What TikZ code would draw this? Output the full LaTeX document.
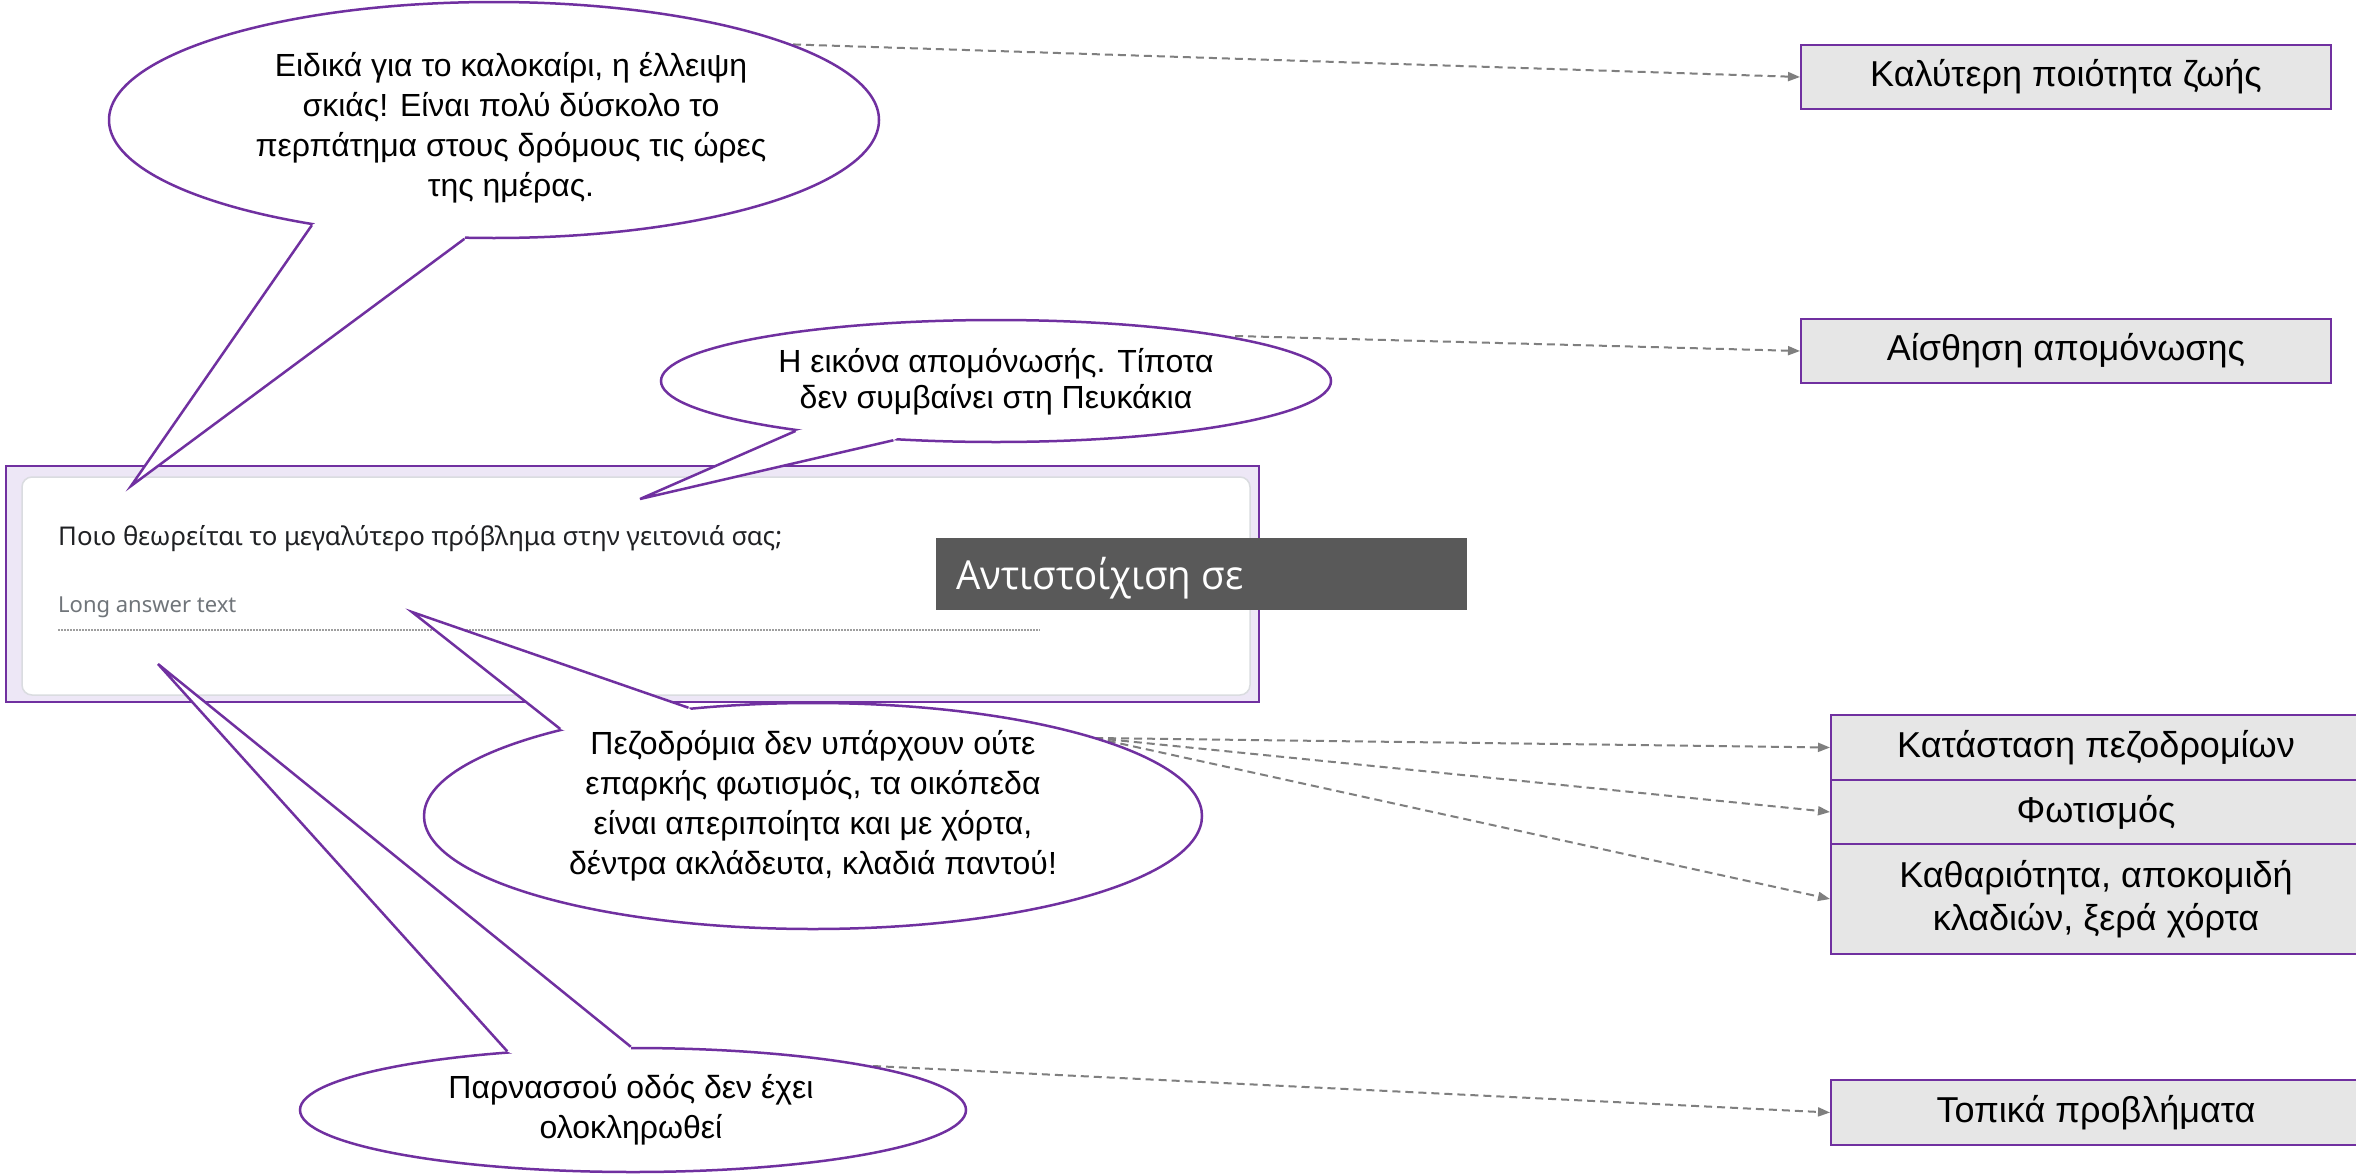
\documentclass[tikz,border=0pt]{standalone}
\usepackage{fontspec}
\setmainfont{Liberation Sans}
\newfontfamily\formfont{Noto Sans}
\newfontfamily\darkfont[FakeStretch=0.96]{Open Sans}
\usetikzlibrary{shapes.geometric,arrows.meta}
\definecolor{callpurple}{HTML}{7030A0}
\definecolor{boxgray}{HTML}{E6E6E6}
\definecolor{arrowgray}{HTML}{7F7F7F}
\definecolor{formlav}{HTML}{EDE7F6}
\definecolor{formborder}{HTML}{DADCE0}
\definecolor{qtext}{HTML}{202124}
\definecolor{hinttext}{HTML}{70757A}
\definecolor{hintline}{HTML}{9E9E9E}
\definecolor{darkbox}{HTML}{595959}
\begin{document}
\begin{tikzpicture}[x=1pt,y=-1pt,
  callout/.style={ellipse, draw=callpurple, line width=2.5pt, fill=white, inner sep=0pt},
  calltext/.style={align=center, inner sep=0pt, font=\fontsize{32}{40}\selectfont},
  tailline/.style={draw=callpurple, line width=2.5pt, line join=miter},
  catbox/.style={rectangle, draw=callpurple, line width=2pt, fill=boxgray, inner sep=0pt, align=center, anchor=north west, font=\fontsize{36}{43}\selectfont},
  link/.style={draw=arrowgray, line width=2pt, dash pattern=on 8pt off 5pt, -{Triangle[length=12pt,width=9pt]}}]
\useasboundingbox (0,0) rectangle (2356,1175);
\fill[white] (0,0) rectangle (2356,1175);

% form screenshot
\draw[callpurple, line width=2.5pt, fill=formlav] (6,466) rectangle (1259,702);
\draw[formborder, line width=1.5pt, fill=white, rounded corners=10pt] (22,477) rectangle (1250,695);
\node[anchor=base west, inner sep=0pt, text=qtext, font=\formfont\fontsize{25.8}{31}\selectfont] (q) at (58,545) {Ποιο θεωρείται το μεγαλύτερο πρόβλημα στην γειτονιά σας;};
\node[anchor=base west, inner sep=0pt, text=hinttext, font=\formfont\fontsize{22}{26}\selectfont] (hint) at (58,612) {Long answer text};
\draw[hintline, line width=1.2pt, dash pattern=on 1.5pt off 1.5pt] (58,630) -- (1040,630);

% dark label
\node[fill=darkbox, anchor=north west, minimum width=531pt, minimum height=72pt, inner sep=0pt] (dbox) at (936,538) {};
\node[anchor=base west, inner sep=0pt, text=white, font=\darkfont\fontsize{40}{46}\selectfont] (dtext) at (956,589) {Αντιστοίχιση σε};

% category boxes
\node[catbox, minimum width=530pt, minimum height=64pt] (b1) at (1800,44) {Καλύτερη ποιότητα ζωής};
\node[catbox, minimum width=530pt, minimum height=64pt] (b2) at (1800,318) {Αίσθηση απομόνωσης};
\node[catbox, minimum width=530pt, minimum height=65pt] (b3) at (1830,714) {Κατάσταση πεζοδρομίων};
\node[catbox, minimum width=530pt, minimum height=64pt] (b4) at (1830,779) {Φωτισμός};
\node[catbox, minimum width=530pt, minimum height=110pt] (b5) at (1830,843) {Καθαριότητα, αποκομιδή\\κλαδιών, ξερά χόρτα};
\node[catbox, minimum width=530pt, minimum height=65pt] (b6) at (1830,1079) {Τοπικά προβλήματα};

% connectors
\coordinate (s1) at (780,44);
\coordinate (s2) at (1235,336);
\coordinate (s3) at (1095,738);
\coordinate (s4) at (873,1066);
\draw[link] (s1) -- (b1.west);
\draw[link] (s2) -- (b2.west);
\draw[link] (s3) -- (b3.west);
\draw[link] (s3) -- (b4.west);
\draw[link] (s3) -- (b5.west);
\draw[link] (s4) -- (b6.west);

% callout 1
\node[callout, minimum width=770pt, minimum height=236pt] (c1) at (494,120) {};
\fill[white] (c1.210) -- (131,486) -- (c1.256) -- (c1.center) -- cycle;
\draw[tailline] (c1.210) -- (131,486) -- (c1.256);
\node[calltext] (t1) at (511,128) {Ειδικά για το καλοκαίρι, η έλλειψη\\σκιάς! Είναι πολύ δύσκολο το\\περπάτημα στους δρόμους τις ώρες\\της ημέρας.};

% callout 2
\node[callout, minimum width=670pt, minimum height=122pt] (c2) at (996,381) {};
\fill[white] (c2.194) -- (640,499) -- (c2.210) -- (c2.center) -- cycle;
\draw[tailline] (c2.194) -- (640,499) -- (c2.210);
\node[calltext, font=\fontsize{32}{36}\selectfont] (t2) at (996,382) {Η εικόνα απομόνωσής. Τίποτα\\δεν συμβαίνει στη Πευκάκια};

% callout 3
\node[callout, minimum width=778pt, minimum height=226pt] (c3) at (813,816) {};
\fill[white] (c3.161) -- (412,612) -- (c3.139) -- (c3.center) -- cycle;
\draw[tailline] (c3.161) -- (412,612) -- (c3.139);
\node[calltext] (t3) at (813,806) {Πεζοδρόμια δεν υπάρχουν ούτε\\επαρκής φωτισμός, τα οικόπεδα\\είναι απεριποίητα και με χόρτα,\\δέντρα ακλάδευτα, κλαδιά παντού!};

% callout 4
\node[callout, minimum width=666pt, minimum height=124pt] (c4) at (633,1110) {};
\fill[white] (c4.155) -- (158,664) -- (c4.92) -- (c4.center) -- cycle;
\draw[tailline] (c4.155) -- (158,664) -- (c4.92);
\node[calltext] (t4) at (631,1110) {Παρνασσού οδός δεν έχει\\ολοκληρωθεί};
\end{tikzpicture}
\end{document}
